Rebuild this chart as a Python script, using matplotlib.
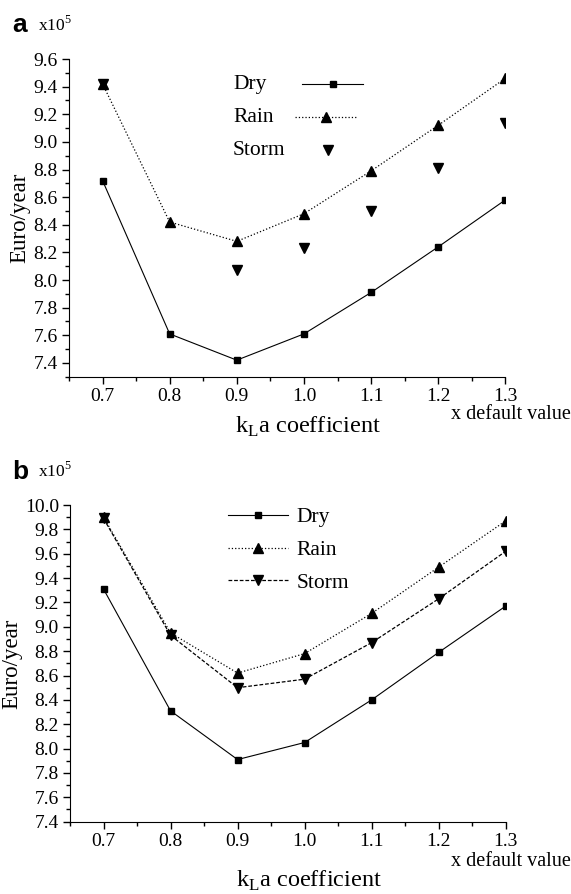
import numpy as np
import matplotlib
matplotlib.use("Agg")
import matplotlib.pyplot as plt
from matplotlib.lines import Line2D
from matplotlib.ticker import MultipleLocator, FormatStrFormatter

x = [0.7, 0.8, 0.9, 1.0, 1.1, 1.2, 1.3]

a_dry = [8.72, 7.61, 7.42, 7.61, 7.91, 8.24, 8.58]
a_rain = [9.42, 8.42, 8.28, 8.48, 8.79, 9.12, 9.46]
a_storm = [9.42, np.nan, 8.07, 8.23, 8.50, 8.81, 9.14]

b_dry = [9.31, 8.31, 7.91, 8.05, 8.40, 8.79, 9.17]
b_rain = [9.90, 8.95, 8.62, 8.78, 9.11, 9.49, 9.87]
b_storm = [9.89, 8.93, 8.50, 8.57, 8.87, 9.23, 9.62]

labels = ["Dry", "Rain", "Storm"]

serif = "Liberation Serif"
plt.rcParams['font.family'] = serif

fig = plt.figure(figsize=(5.71, 8.94), dpi=100)

def style_axes(ax, ylo, yhi, xpad):
    ax.set_xlim(0.65, 1.3)
    ax.set_ylim(ylo, yhi)
    ax.spines['top'].set_visible(False)
    ax.spines['right'].set_visible(False)
    ax.xaxis.set_major_locator(MultipleLocator(0.1))
    ax.xaxis.set_minor_locator(MultipleLocator(0.05))
    ax.yaxis.set_major_locator(MultipleLocator(0.2))
    ax.yaxis.set_minor_locator(MultipleLocator(0.1))
    ax.xaxis.set_major_formatter(FormatStrFormatter('%.1f'))
    ax.yaxis.set_major_formatter(FormatStrFormatter('%.1f'))
    ax.tick_params(which='major', direction='out', length=5, width=1, labelsize=14, pad=3)
    ax.tick_params(which='minor', direction='out', length=3, width=1)
    ax.set_ylabel("Euro/year", fontsize=16.5, labelpad=2)
    ax.set_xlabel(r"k$_{\mathregular{L}}$a coefficient", fontsize=17.5, labelpad=xpad)
    ax.xaxis.label.set_x(0.548)

# Panel a
ax1 = fig.add_axes([0.1208, 0.5786, 0.7642, 0.3554])
ax1.plot(x, a_dry, '-', color='black', lw=0.8, marker='s', ms=5)
ax1.plot(x, a_rain, ':', color='black', lw=0.9, marker='^', ms=7)
ax1.plot(x, a_storm, color='black', linestyle='none', marker='v', ms=7)
style_axes(ax1, 7.3, 9.6, 7)

# legend of panel a: labels left, keys right (drawn in axes fraction)
rows_y = [0.921, 0.817, 0.713]
key_styles = [dict(ls='-', lw=0.8, marker='s', ms=5, x0=0.534, x1=0.674),
              dict(ls=':', lw=0.9, marker='^', ms=7, x0=0.518, x1=0.658),
              dict(ls='none', lw=0.9, marker='v', ms=7, x0=0.523, x1=0.663)]
for lab, yy, ks in zip(labels, rows_y, key_styles):
    ax1.text(0.376, yy, lab, transform=ax1.transAxes, fontsize=15.5, va='center', ha='left')
    ax1.add_line(Line2D([ks['x0'], ks['x1']], [yy, yy], transform=ax1.transAxes,
                        color='black', ls=ks['ls'], lw=ks['lw'], clip_on=False))
    ax1.add_line(Line2D([(ks['x0'] + ks['x1']) / 2], [yy], transform=ax1.transAxes,
                        color='black', ls='none', marker=ks['marker'], ms=ks['ms'], clip_on=False))

fig.text(0.022, 0.985, "a", fontsize=19, fontweight='bold', family='Liberation Sans', va='top')
fig.text(0.066, 0.983, r"x10$^{\mathregular{5}}$", fontsize=12.5, va='top')
fig.text(0.999, 0.5365, "x default value", fontsize=14.5, ha='right', va='center')

# Panel b
ax2 = fig.add_axes([0.1226, 0.0809, 0.763, 0.3542])
m1, = ax2.plot(x, b_dry, '-', color='black', lw=0.8, marker='s', ms=5, label=labels[0])
m2, = ax2.plot(x, b_rain, ':', color='black', lw=0.9, marker='^', ms=7, label=labels[1])
m3, = ax2.plot(x, b_storm, '--', color='black', lw=0.9, dashes=(3, 1.5), marker='v', ms=7, label=labels[2])
style_axes(ax2, 7.4, 10.0, 14)
ax2.legend(handles=[m1, m2, m3], loc='upper left', bbox_to_anchor=(0.318, 1.055),
           frameon=False, fontsize=15.5, markerfirst=True, handlelength=2.8,
           labelspacing=0.6, handletextpad=0.4)
fig.text(0.022, 0.486, "b", fontsize=19, fontweight='bold', family='Liberation Sans', va='top')
fig.text(0.066, 0.484, r"x10$^{\mathregular{5}}$", fontsize=12.5, va='top')
fig.text(0.999, 0.0365, "x default value", fontsize=14.5, ha='right', va='center')

fig.savefig("out.png", dpi=100)
